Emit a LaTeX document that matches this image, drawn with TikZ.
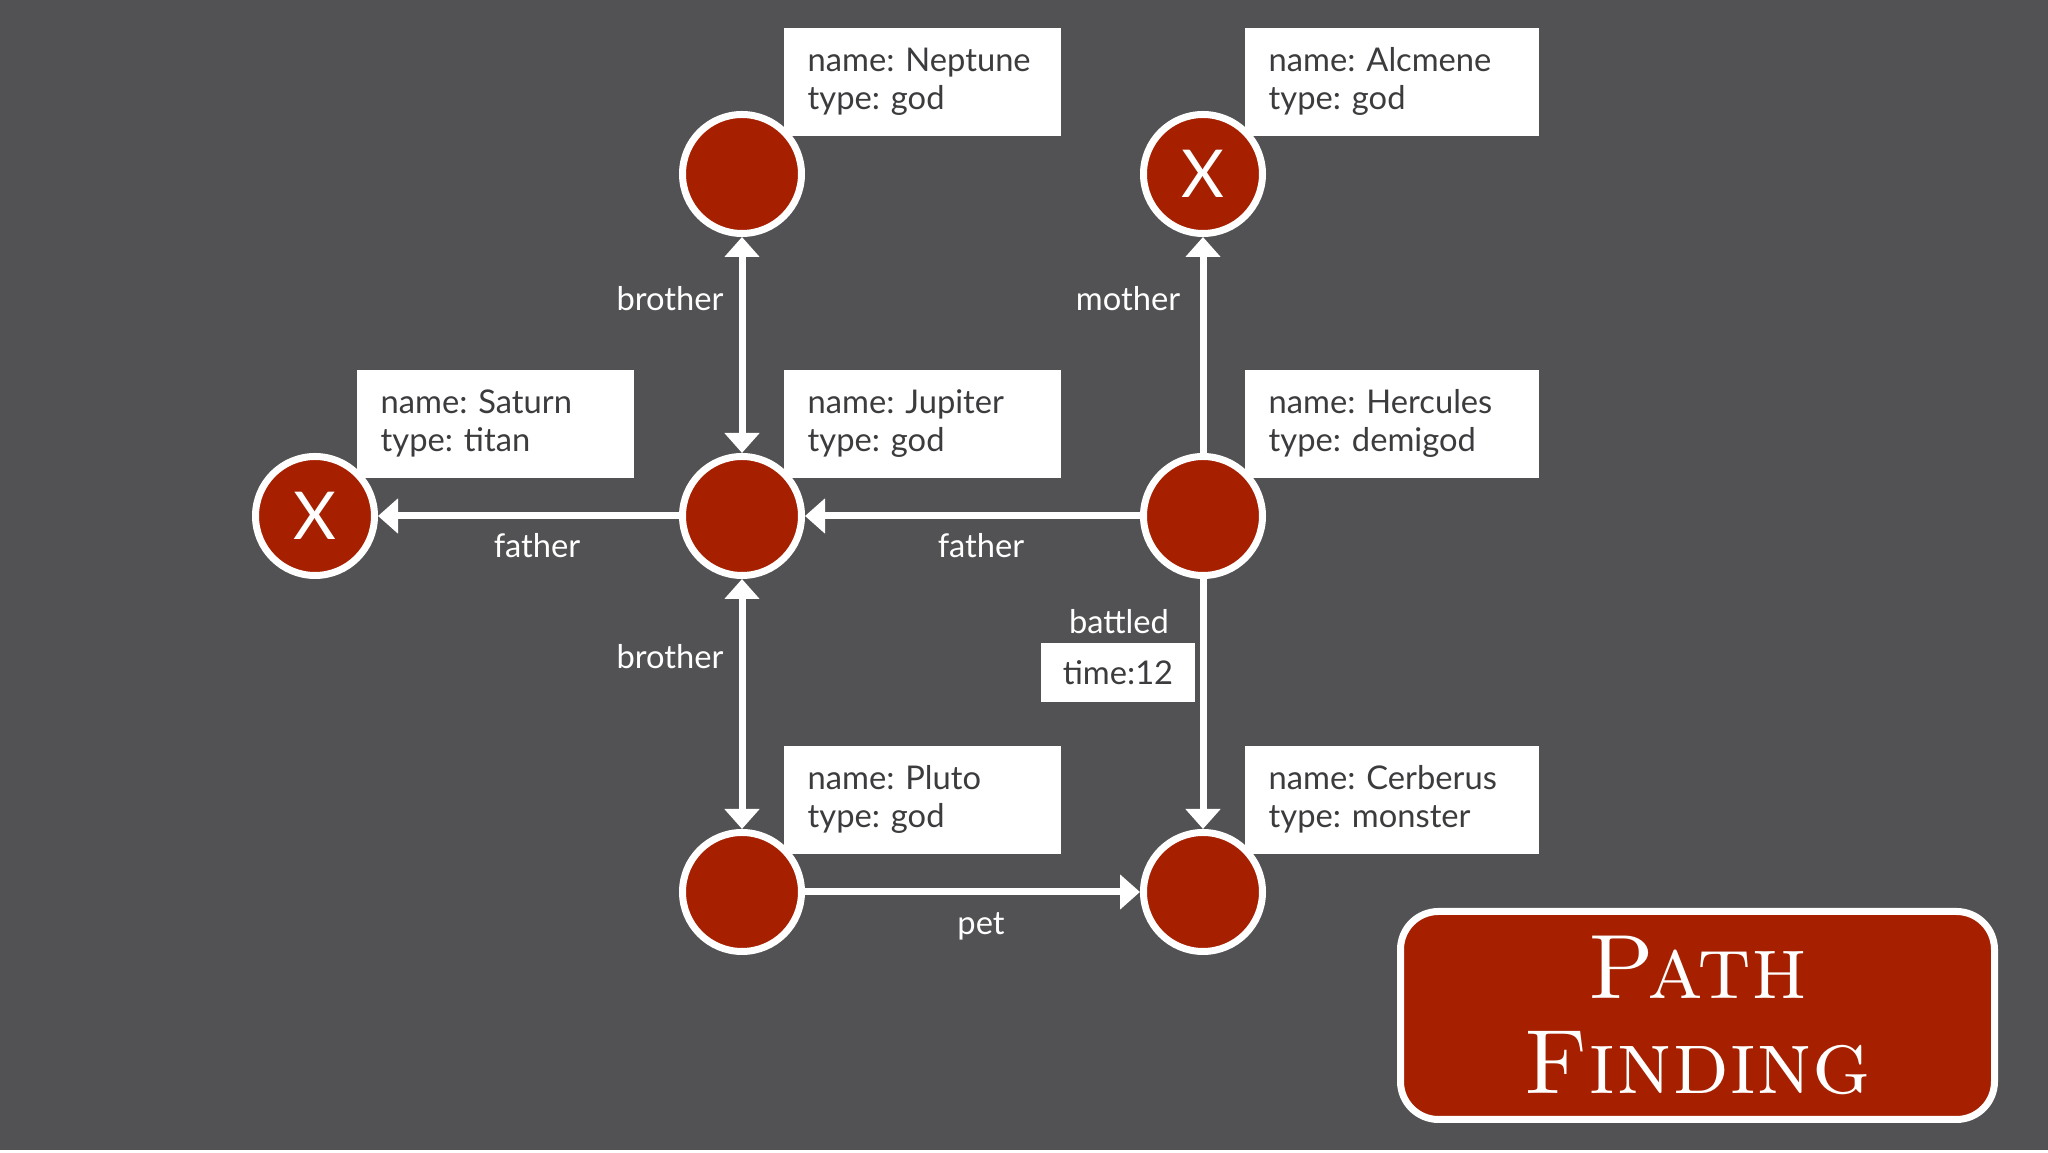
\documentclass[tikz,border=0pt]{standalone}
\usepackage{fontspec}
\newfontfamily\lato{Lato}
\usepackage{tikz}
\usetikzlibrary{arrows.meta}
\usepackage{xcolor}
\definecolor{slate}{RGB}{82,81,83}
\definecolor{godred}{RGB}{166,32,0}
\definecolor{ink}{RGB}{60,59,62}
\frenchspacing

\begin{document}
\begin{tikzpicture}
\tikzstyle{every node}=[font=\lato\fontsize{9.3}{10.8}\selectfont]
\tikzstyle{entity}=[circle, fill=godred, draw=white, line width=0.07cm, minimum size=1.19cm, inner sep=0pt, text=white, font=\lato\fontsize{18.8}{20}\selectfont]
\tikzstyle{props}=[rectangle, fill=white, text=ink, anchor=north west, minimum height=1.08cm, inner xsep=0.24cm, align=left]
\tikzstyle{rel}=[draw=white, line width=0.07cm, >={Triangle[width=0.34cm,length=0.2cm]}, ->]
\tikzstyle{twoway}=[rel, <->]
\tikzstyle{rellabel}=[text=white]
\fill[slate] (0,0) rectangle (20.48,-11.53);
\fill[white] (0,-11.50) rectangle (20.48,-11.53);
% property boxes
\node[props, text width=2.29cm] (saturnprops) at (3.56,-3.69) {name: Saturn\\type: titan};
\node[props, text width=2.29cm] (neptuneprops) at (7.83,-0.27) {name: Neptune\\type: god};
\node[props, text width=2.29cm] (jupiterprops) at (7.83,-3.69) {name: Jupiter\\type: god};
\node[props, text width=2.29cm] (plutoprops) at (7.83,-7.45) {name: Pluto\\type: god};
\node[props, text width=2.46cm] (alcmeneprops) at (12.44,-0.27) {name: Alcmene\\type: god};
\node[props, text width=2.46cm] (herculesprops) at (12.44,-3.69) {name: Hercules\\type: demigod};
\node[props, text width=2.46cm] (cerberusprops) at (12.44,-7.45) {name: Cerberus\\type: monster};
% entities
\node[entity] (saturn) at (3.15,-5.16) {X};
\node[entity] (neptune) at (7.42,-1.74) {};
\node[entity] (jupiter) at (7.42,-5.16) {};
\node[entity] (pluto) at (7.42,-8.92) {};
\node[entity] (alcmene) at (12.03,-1.74) {X};
\node[entity] (hercules) at (12.03,-5.16) {};
\node[entity] (cerberus) at (12.03,-8.92) {};
% relations
\draw[twoway] (jupiter) -- (neptune);
\draw[twoway] (jupiter) -- (pluto);
\draw[rel] (jupiter) -- (saturn);
\draw[rel] (hercules) -- (jupiter);
\draw[rel] (hercules) -- (alcmene);
\draw[rel] (hercules) -- (cerberus);
\draw[rel] (pluto) -- (cerberus);
\node[rellabel] (brotherup) at (6.70,-2.99) {brother};
\node[rellabel] (brotherdown) at (6.70,-6.57) {brother};
\node[rellabel] (mother) at (11.28,-2.99) {mother};
\node[rellabel] (fatherleft) at (5.37,-5.46) {father};
\node[rellabel] (fatherright) at (9.81,-5.46) {father};
\node[rellabel] (battled) at (11.19,-6.22) {battled};
\node[fill=white, text=ink, minimum width=1.54cm, minimum height=0.59cm] (battletime) at (11.18,-6.73) {time:12};
\node[rellabel] (pet) at (9.81,-9.26) {pet};
% title
\node[fill=godred, draw=white, line width=0.07cm, rounded corners=0.38cm, minimum width=5.94cm, minimum height=2.08cm, text=white, align=center, font=\rmfamily\scshape\fontsize{26}{27}\selectfont] (title) at (16.975,-10.155) {Path\\Finding};
\end{tikzpicture}
\end{document}
